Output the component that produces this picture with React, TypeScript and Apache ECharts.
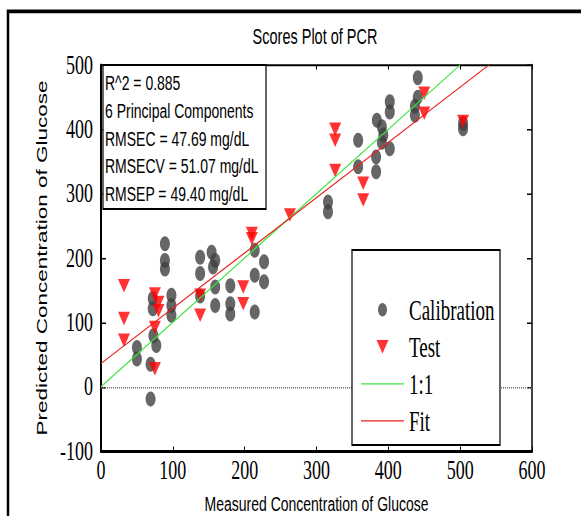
import React, { useEffect, useRef } from "react";
import * as echarts from "echarts";

// vertical stretch of the reference figure (its glyphs and markers are tall and narrow)
const STRETCH = 1.5;
const W = 581;
const H = 516;

const chartTitle = "Scores Plot of PCR";
const xName = "Measured Concentration of Glucose";
const yName = "Predicted Concentration of Glucose";
const xRange = { min: 0, max: 600, step: 100 };
const yRange = { min: -100, max: 500, step: 100 };
const legendNames = ["Calibration", "Test", "1:1", "Fit"];
const infoLines = [
  "R^2 = 0.885",
  "6 Principal Components",
  "RMSEC = 47.69 mg/dL",
  "RMSECV = 51.07 mg/dL",
  "RMSEP = 49.40 mg/dL",
];

const calibration: [number, number][] = [
  [50, 61], [50, 43],
  [72, 137], [72, 121], [73, 79], [77, 64], [69, 35], [69, -19],
  [89, 222], [89, 196], [89, 183],
  [98, 142], [98, 126], [98, 111],
  [138, 201], [138, 176], [138, 141],
  [154, 209], [159, 196], [156, 186], [159, 155], [159, 126],
  [180, 157], [180, 129], [180, 113],
  [214, 212], [214, 173], [214, 116],
  [227, 194], [227, 163],
  [316, 287], [316, 272],
  [358, 383], [358, 342],
  [383, 357], [383, 334],
  [384, 414], [391, 404], [393, 391], [391, 380], [402, 370],
  [402, 443], [402, 427],
  [441, 480], [441, 450], [437, 436], [437, 422],
  [504, 409], [504, 401],
];

const test: [number, number][] = [
  [32, 157], [32, 106], [32, 72],
  [75, 144], [80, 131], [80, 118], [75, 92], [75, 28],
  [138, 142], [138, 111],
  [198, 155], [198, 129],
  [210, 238], [210, 230],
  [263, 267],
  [326, 400], [326, 383], [326, 336],
  [365, 316], [365, 290],
  [450, 456], [450, 425],
  [504, 412],
];

const oneToOne: [number, number][] = [[0, 0], [500, 500]];
const fitLine: [number, number][] = [[0, 36], [540, 500]];

const GREEN = "#3ee43e";
const RED = "#ee1c1c";
const DOWN_TRIANGLE = "path://M0,0L12,0L6,9Z";
const THIN_LINE_ICON = "path://M0,0L43,0L43,0.8L0,0.8Z";

export default function App() {
  const ref = useRef<HTMLDivElement>(null);

  useEffect(() => {
    document.body.style.margin = "0";
    if (!ref.current) return;
    const chart = echarts.init(ref.current, undefined, { renderer: "svg" });
    const s = STRETCH;
    const gridTop = 65 / s;
    const gridBottomPx = 451 / s;
    const serif = "Liberation Serif";
    const sans = "Liberation Sans";

    const infoTop = 55.5;
    const infoGap = 18.4;

    const option: any = {
      animation: false,
      backgroundColor: "#ffffff",
      title: {
        text: chartTitle,
        left: 315,
        top: 17,
        textAlign: "center",
        padding: 0,
        textStyle: { fontFamily: sans, fontSize: 14.5, fontWeight: "normal", color: "#000" },
      },
      grid: {
        left: 101,
        top: gridTop,
        width: 431,
        height: gridBottomPx - gridTop,
        containLabel: false,
        outerBoundsMode: "none",
      },
      xAxis: [
        {
          type: "value",
          position: "bottom",
          min: xRange.min,
          max: xRange.max,
          interval: xRange.step,
          name: xName,
          nameLocation: "middle",
          nameGap: 28,
          nameTextStyle: { fontFamily: sans, fontSize: 14, color: "#000" },
          axisLine: { onZero: false, lineStyle: { color: "#000", width: 2 } },
          axisTick: { inside: true, length: 3, lineStyle: { color: "#000", width: 1 } },
          axisLabel: { fontFamily: serif, fontSize: 18, color: "#000", margin: 4 },
          splitLine: { show: false },
        },
        {
          type: "value",
          position: "top",
          min: xRange.min,
          max: xRange.max,
          interval: xRange.step,
          axisLine: { onZero: false, lineStyle: { color: "#000", width: 1.2 } },
          axisTick: { inside: true, length: 3, lineStyle: { color: "#000", width: 1 } },
          axisLabel: { show: false },
          splitLine: { show: false },
        },
      ],
      yAxis: [
        {
          type: "value",
          position: "left",
          min: yRange.min,
          max: yRange.max,
          interval: yRange.step,
          name: yName,
          nameLocation: "middle",
          nameGap: 38,
          nameTextStyle: { fontFamily: sans, fontSize: 15, color: "#000" },
          axisLine: { onZero: false, lineStyle: { color: "#000", width: 2 } },
          axisTick: { inside: true, length: 5, lineStyle: { color: "#000", width: 1 } },
          axisLabel: { fontFamily: serif, fontSize: 18, color: "#000", margin: 8 },
          splitLine: { show: false },
        },
        {
          type: "value",
          position: "right",
          min: yRange.min,
          max: yRange.max,
          interval: yRange.step,
          axisLine: { onZero: false, lineStyle: { color: "#000", width: 1.5 } },
          axisTick: { inside: true, length: 5, lineStyle: { color: "#000", width: 1 } },
          axisLabel: { show: false },
          splitLine: { show: false },
        },
      ],
      legend: {
        data: [
          { name: legendNames[0] },
          { name: legendNames[1] },
          { name: legendNames[2], icon: THIN_LINE_ICON, itemStyle: { color: GREEN } },
          { name: legendNames[3], icon: THIN_LINE_ICON, itemStyle: { color: RED } },
        ],
        orient: "vertical",
        left: 361,
        top: 197,
        padding: 0,
        itemWidth: 43,
        itemHeight: 9,
        itemGap: 5.7,
        z: 10,
        textStyle: { fontFamily: serif, fontSize: 19, color: "#000", lineHeight: 19 },
      },
      graphic: [
        {
          type: "rect",
          z: 20,
          silent: true,
          shape: { x: 8, y: 7.6, width: 700, height: 700 },
          style: { fill: "none", stroke: "#000", lineWidth: 2.5 },
        },
        {
          type: "rect",
          z: 8,
          silent: true,
          shape: { x: 352, y: 250 / s, width: 148, height: (445 - 250) / s },
          style: { fill: "#fff", stroke: "#000", lineWidth: 1.2 },
        },
        {
          type: "rect",
          z: 8,
          silent: true,
          shape: { x: 103, y: gridTop, width: 163, height: 209 / s - gridTop },
          style: { fill: "#fff", stroke: "#000", lineWidth: 1.2 },
        },
        ...infoLines.map((t, i) => ({
          type: "text",
          z: 9,
          silent: true,
          x: 105,
          y: infoTop + i * infoGap,
          style: {
            text: t,
            fill: "#000",
            font: `14px "${sans}"`,
            textAlign: "left",
            textVerticalAlign: "middle",
          },
        })),
      ],
      series: [
        {
          name: "Calibration",
          type: "scatter",
          xAxisIndex: 0,
          yAxisIndex: 0,
          symbol: "circle",
          symbolSize: 10,
          itemStyle: { color: "#404040" },
          data: calibration,
        },
        {
          name: "Test",
          type: "scatter",
          xAxisIndex: 0,
          yAxisIndex: 0,
          symbol: DOWN_TRIANGLE,
          symbolSize: [12, 9],
          itemStyle: { color: "#ff0000" },
          data: test,
        },
        {
          name: "1:1",
          type: "line",
          xAxisIndex: 0,
          yAxisIndex: 0,
          symbol: "none",
          itemStyle: { color: GREEN },
          lineStyle: { color: GREEN, width: 0.9 },
          data: oneToOne,
          markLine: {
            silent: true,
            symbol: ["none", "none"],
            label: { show: false },
            lineStyle: { color: "#707070", type: "dotted", width: 1 },
            data: [{ yAxis: 0 }],
          },
        },
        {
          name: "Fit",
          type: "line",
          xAxisIndex: 0,
          yAxisIndex: 0,
          symbol: "none",
          itemStyle: { color: RED },
          lineStyle: { color: RED, width: 0.9 },
          data: fitLine,
        },
      ],
    };

    chart.setOption(option);
    return () => {
      chart.dispose();
    };
  }, []);

  return (
    <div style={{ width: W, height: H, overflow: "hidden", position: "relative", background: "#fff" }}>
      <div
        style={{
          width: W,
          height: H / STRETCH,
          transform: `scaleY(${STRETCH})`,
          transformOrigin: "0 0",
        }}
      >
        <div ref={ref} style={{ width: W, height: H / STRETCH }} />
      </div>
    </div>
  );
}
